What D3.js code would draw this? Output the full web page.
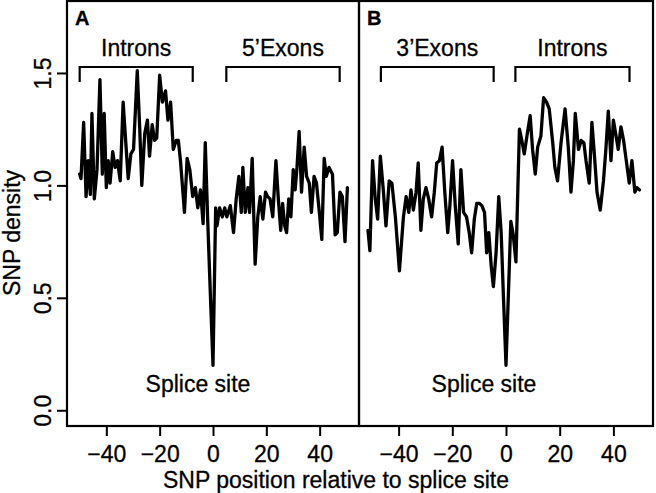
<!DOCTYPE html>
<html>
<head>
<meta charset="utf-8">
<script src="https://cdn.jsdelivr.net/npm/d3@7"></script>
<style>
  body { margin: 0; background: #fff; }
  svg { display: block; font-family: "Liberation Sans", Arial, Helvetica, sans-serif; }
  svg text { stroke: #000; stroke-width: 0.3px; }
</style>
</head>
<body>
<svg id="chart" width="656" height="493"></svg>
<script>
'use strict';

// panel A : SNP density around the 5' splice site
var pos_a = [-50.0,-49.5,-48.5,-47.6,-46.8,-46.0,-45.4,-44.5,-43.5,-42.4,-41.5,-40.8,-40.0,-39.3,-38.6,-37.6,-36.7,-35.8,-34.8,-33.7,
  -32.7,-31.8,-30.8,-29.8,-28.4,-27.5,-26.7,-25.6,-24.6,-23.8,-22.8,-21.9,-21.1,-20.0,-19.0,-17.8,-16.9,-15.9,-14.9,-13.8,
  -13.0,-12.2,-10.7,-9.7,-8.7,-7.6,-6.6,-5.7,-4.7,-3.7,-2.9,-2.0,-1.0,0,
  1.0,1.5,2.5,3.5,4.4,5.2,6.5,7.7,8.7,9.7,10.6,11.2,12.1,13.1,13.7,14.7,15.8,16.8,17.7,18.7,19.7,20.5,21.4,22.4,23.6,24.5,
  25.4,26.1,26.9,27.6,28.4,29.2,30.1,30.8,31.5,32.3,33.2,34.2,35.1,36.1,36.9,37.9,38.8,39.8,40.8,41.7,42.5,43.5,44.8,45.8,
  46.6,47.6,48.5,49.5,50.4];
var dens_a = [1.05,1.03,1.28,0.95,1.11,0.96,1.32,0.94,1.07,1.47,1.05,1.32,0.99,1.11,1.01,1.15,1.08,1.11,1.02,1.37,
  1.19,1.03,1.14,1.16,1.51,1.26,1.00,1.23,1.29,1.13,1.27,1.20,1.21,1.49,1.37,1.42,1.29,1.37,1.16,1.20,
  1.20,1.11,0.88,1.12,1.07,0.95,0.99,0.90,0.98,0.83,1.19,0.85,0.52,0.20,
  0.90,0.82,0.90,0.86,0.90,0.86,0.91,0.79,0.94,1.04,0.88,1.08,0.88,0.99,0.88,1.12,0.65,0.86,0.95,0.85,0.97,0.95,0.94,0.86,1.11,0.94,
  0.80,0.92,0.82,0.79,0.94,0.86,1.07,0.98,1.08,1.24,0.97,1.17,1.04,1.01,0.88,1.04,1.01,0.89,0.76,1.12,1.04,1.08,1.05,0.78,
  0.79,0.97,0.95,0.75,0.99];

// panel B : SNP density around the 3' splice site
var pos_b = [-51.4,-50.7,-49.7,-48.7,-47.8,-46.8,-45.7,-44.7,-43.5,-42.5,-41.2,-39.7,-38.2,-37.2,-36.2,-35.4,-34.5,-33.5,-32.7,-31.7,
  -30.8,-29.8,-28.8,-27.7,-26.7,-25.8,-24.8,-23.8,-22.8,-21.7,-20.9,-19.9,-18.9,-17.8,-16.8,-15.8,-14.7,-13.7,-12.8,-11.8,
  -10.9,-9.9,-9.0,-8.0,-7.2,-6.4,-5.5,-4.7,-3.7,-2.7,-1.8,-1.0,0,
  1.8,2.7,3.7,5.0,5.9,6.8,7.8,9.0,9.9,10.9,11.8,13.0,14.0,15.1,16.1,17.4,18.2,19.2,20.5,22.0,23.2,24.2,25.1,25.8,27.0,28.0,
  29.0,29.8,31.0,32.0,32.9,33.9,35.1,36.3,37.2,38.1,39.1,40.0,41.0,41.8,42.8,43.8,44.8,45.9,46.9,48.0,48.8,49.7];
var dens_b = [0.80,0.71,1.11,0.94,0.85,1.13,0.98,0.82,1.02,1.01,0.86,0.62,0.86,0.95,0.88,0.98,0.89,0.97,1.10,0.80,
  0.94,0.99,0.94,0.86,0.97,1.10,1.11,1.17,0.97,0.79,0.91,1.11,0.91,0.74,1.07,0.88,0.86,0.79,0.70,0.85,
  0.92,0.92,0.91,0.88,0.70,0.79,0.64,0.55,0.70,0.95,0.79,0.52,0.20,
  0.84,0.78,0.66,1.25,1.20,1.14,1.22,1.31,1.16,1.05,1.17,1.22,1.39,1.37,1.34,1.19,1.08,1.02,1.19,1.34,1.17,0.97,1.11,1.32,1.16,1.20,
  1.19,1.11,1.01,1.28,1.14,0.97,0.89,1.02,1.16,1.33,1.11,1.29,1.22,1.16,1.26,1.20,1.11,1.01,1.11,0.97,0.99,0.98];

var x_ticks = [-40, -20, 0, 20, 40];
var y_ticks = [0.0, 0.5, 1.0, 1.5];

// region brackets above each trace
var regions_a = ["Introns", "5\u2019Exons"];
var regions_a_from = [-50, 5];
var regions_a_to = [-7.6, 47.5];
var regions_b = ["3\u2019Exons", "Introns"];
var regions_b_from = [-46.6, 3.5];
var regions_b_to = [-4.6, 46];

var x_title = "SNP position relative to splice site";
var y_title = "SNP density";
var splice_label = "Splice site";

var font_size = 23;
var svg = d3.select("#chart");

var y = d3.scaleLinear().domain([-0.07, 1.82]).range([426, 1]);

var panels = [
  { letter: "A", pos: pos_a, dens: dens_a,
    names: regions_a, from: regions_a_from, to: regions_a_to, left: 67, right: 359, splice_dx: -15 },
  { letter: "B", pos: pos_b, dens: dens_b,
    names: regions_b, from: regions_b_from, to: regions_b_to, left: 359, right: 653, splice_dx: -22 }
];

function draw_panel(p){
  var x = d3.scaleLinear().domain([-54.75, 54.75]).range([p.left, p.right]);
  var g = svg.append("g").attr("class", "panel");

  // x axis (ticks only, the frame is the axis line)
  var ax = g.append("g")
    .attr("transform", "translate(0," + y.range()[0] + ")")
    .call(d3.axisBottom(x).tickValues(x_ticks).tickSize(10).tickPadding(10));
  ax.select(".domain").remove();
  ax.selectAll("line").attr("stroke", "#000").attr("stroke-width", 2);
  ax.selectAll("text").attr("fill", "#000").style("font-size", font_size + "px");

  // the trace
  var line = d3.line()
    .x(function(d, i){ return x(p.pos[i]); })
    .y(function(d){ return y(d); });
  g.append("path")
    .datum(p.dens)
    .attr("d", line)
    .attr("fill", "none")
    .attr("stroke", "#000")
    .attr("stroke-width", 3.3)
    .attr("stroke-linejoin", "round")
    .attr("stroke-linecap", "round");

  // brackets with region names
  var top = 67, drop = 15;
  p.names.forEach(function(name, i){
    var x1 = x(p.from[i]), x2 = x(p.to[i]);
    g.append("path")
      .attr("d", "M" + x1 + "," + (top + drop) + "V" + top + "H" + x2 + "V" + (top + drop))
      .attr("fill", "none")
      .attr("stroke", "#000")
      .attr("stroke-width", 2.2);
    g.append("text")
      .attr("x", (x1 + x2) / 2)
      .attr("y", 56)
      .attr("text-anchor", "middle")
      .style("font-size", font_size + "px")
      .text(name);
  });

  g.append("text")
    .attr("x", x(0) + p.splice_dx)
    .attr("y", 391.5)
    .attr("text-anchor", "middle")
    .style("font-size", font_size + "px")
    .text(splice_label);

  g.append("text")
    .attr("x", p.left + 8)
    .attr("y", 24.5)
    .style("font-size", "20px")
    .style("font-weight", "bold")
    .text(p.letter);

  // frame
  g.append("rect")
    .attr("x", p.left)
    .attr("y", y.range()[1])
    .attr("width", p.right - p.left)
    .attr("height", y.range()[0] - y.range()[1])
    .attr("fill", "none")
    .attr("stroke", "#000")
    .attr("stroke-width", 2.2);
}

panels.forEach(draw_panel);

// y axis on the left panel only
var y_axis = svg.append("g")
  .attr("transform", "translate(" + panels[0].left + ",0)")
  .call(d3.axisLeft(y).tickValues(y_ticks).tickSize(10).tickFormat(d3.format(".1f")));
y_axis.select(".domain").remove();
y_axis.selectAll("line").attr("stroke", "#000").attr("stroke-width", 2);
y_axis.selectAll("text")
  .attr("x", 0).attr("y", 0).attr("dy", 0)
  .attr("transform", "translate(-16.5,0) rotate(-90)")
  .attr("text-anchor", "middle")
  .attr("fill", "#000")
  .style("font-size", font_size + "px");

svg.append("text")
  .attr("x", 336)
  .attr("y", 488)
  .attr("text-anchor", "middle")
  .style("font-size", font_size + "px")
  .text(x_title);

svg.append("text")
  .attr("transform", "translate(20,233) rotate(-90)")
  .attr("text-anchor", "middle")
  .style("font-size", font_size + "px")
  .text(y_title);
</script>
</body>
</html>
